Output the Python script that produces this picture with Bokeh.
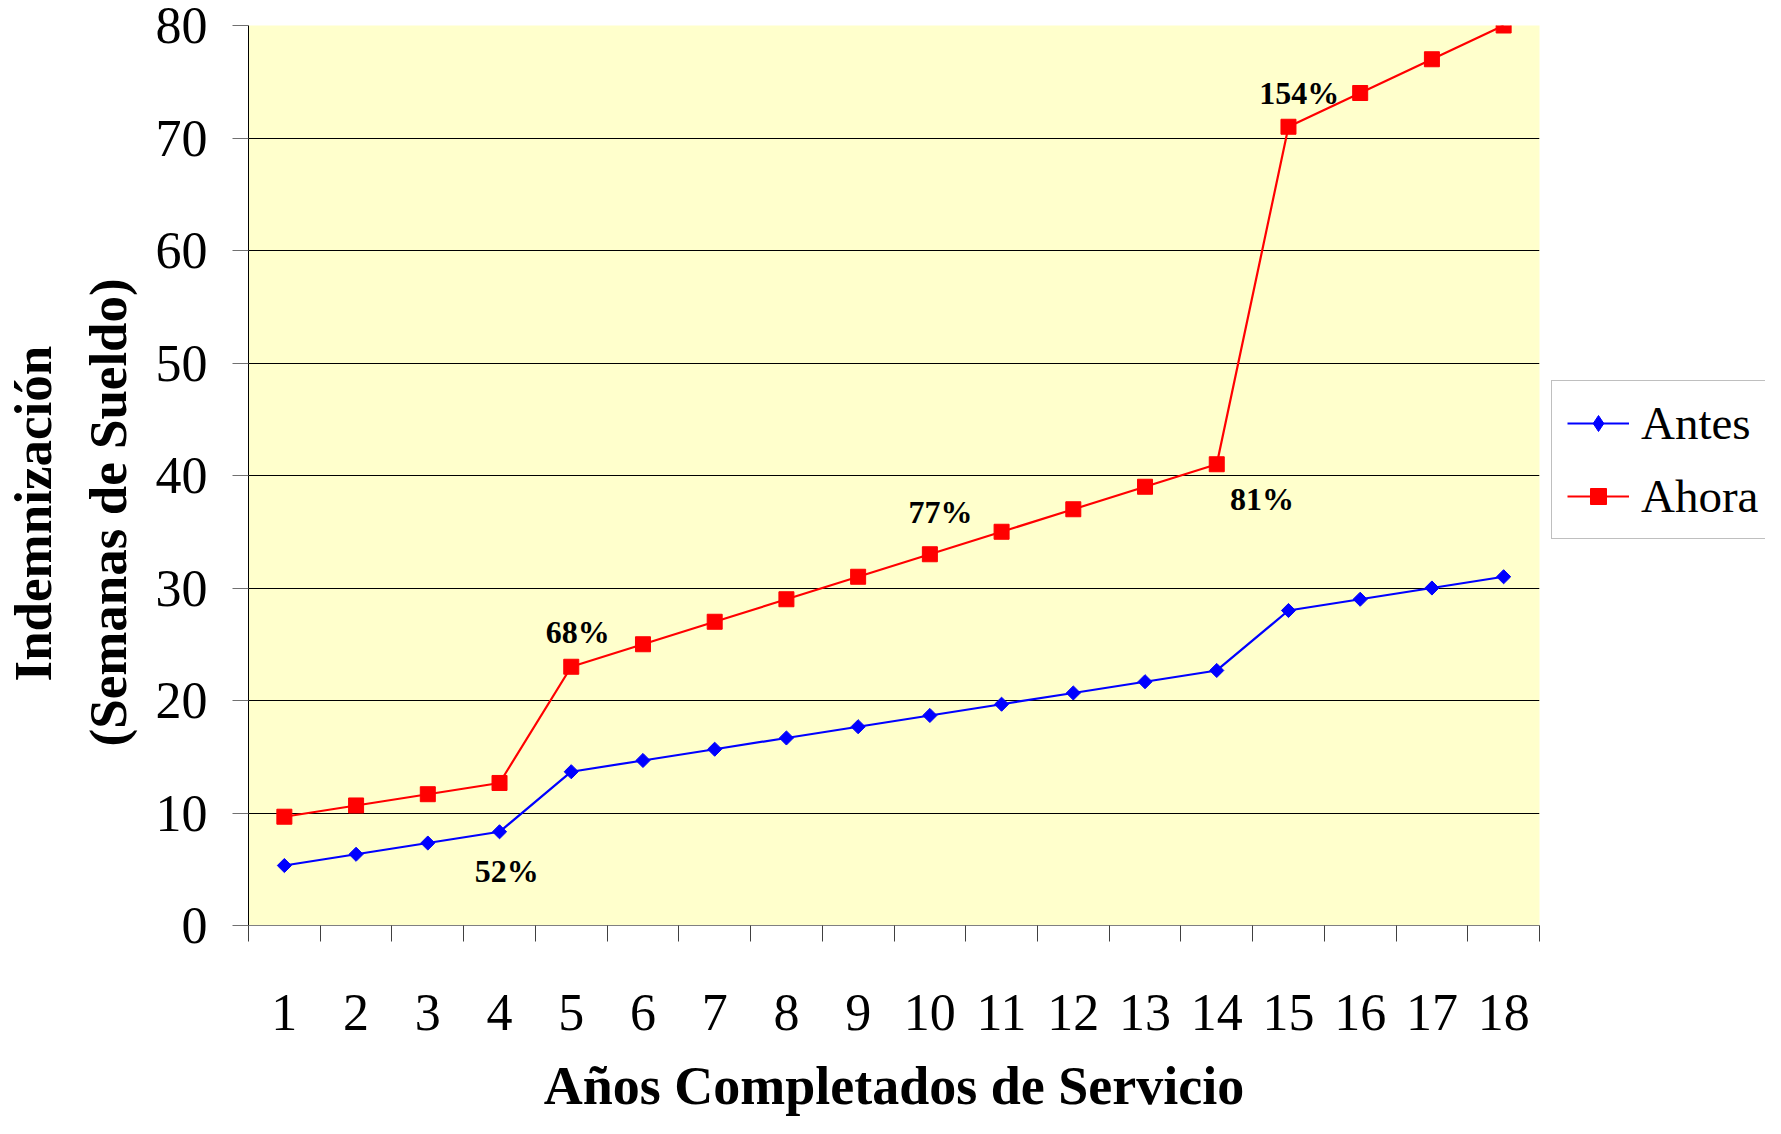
import math
from bokeh.plotting import figure
from bokeh.layouts import row
from bokeh.models import Range1d, FixedTicker, Legend, LegendItem, ColumnDataSource, Title
from bokeh.embed import file_html
from bokeh.resources import INLINE
from bokeh.core.properties import value

# ---------------- data ----------------
anios = [1, 2, 3, 4, 5, 6, 7, 8, 9, 10, 11, 12, 13, 14, 15, 16, 17, 18]
antes = [5.33, 6.33, 7.33, 8.33, 13.67, 14.67, 15.67, 16.67, 17.67, 18.67,
         19.67, 20.67, 21.67, 22.67, 28.0, 29.0, 30.0, 31.0]
ahora = [9.67, 10.67, 11.67, 12.67, 23.0, 25.0, 27.0, 29.0, 31.0, 33.0,
         35.0, 37.0, 39.0, 41.0, 71.0, 74.0, 77.0, 80.0]
etiquetas_txt = ["52%", "68%", "77%", "81%", "154%"]
etiquetas_x = [4.10, 5.09, 10.15, 14.63, 15.15]
etiquetas_y = [4.86, 26.09, 36.79, 37.90, 73.96]
y_ticks = [0, 10, 20, 30, 40, 50, 60, 70, 80]
serie_nombres = ["Antes", "Ahora"]
titulo_x = "Años Completados de Servicio"
titulo_y1 = "Indemnización"
titulo_y2 = "(Semanas de Sueldo)"

FONT = "Liberation Serif"
AZUL = "#0000FF"
ROJO = "#FF0000"
limites = [a - 0.5 for a in anios] + [anios[-1] + 0.5]

# ---------------- main chart ----------------
p = figure(width=1541, height=1118,
           x_range=Range1d(0.5, 18.5), y_range=Range1d(0, 80),
           output_backend="svg", toolbar_location=None,
           min_border_left=248, min_border_right=2,
           min_border_top=25, min_border_bottom=192)
p.background_fill_color = "#FFFFCC"
p.border_fill_color = "white"
p.outline_line_color = None

p.xgrid.grid_line_color = None
p.ygrid.ticker = FixedTicker(ticks=y_ticks)
p.ygrid.grid_line_color = "black"
p.ygrid.grid_line_width = 1

yax = p.yaxis[0]
yax.ticker = FixedTicker(ticks=y_ticks, minor_ticks=[])
yax.major_tick_out = 16
yax.major_tick_in = 0
yax.minor_tick_out = 0
yax.minor_tick_in = 0
yax.axis_line_color = "black"
yax.major_tick_line_color = "#707070"
yax.major_label_text_font = FONT
yax.major_label_text_font_size = "52px"
yax.major_label_text_line_height = 0.9
yax.major_label_text_color = "black"
yax.major_label_standoff = 25

xax = p.xaxis[0]
xax.ticker = FixedTicker(ticks=anios, minor_ticks=limites)
xax.major_tick_out = 0
xax.major_tick_in = 0
xax.major_tick_line_color = None
xax.minor_tick_out = 16
xax.minor_tick_in = 0
xax.minor_tick_line_color = "#404040"
xax.axis_line_color = "#808080"
xax.major_label_text_font = FONT
xax.major_label_text_font_size = "52px"
xax.major_label_text_color = "black"
xax.major_label_standoff = 53
xax.axis_label = titulo_x
xax.axis_label_text_font = FONT
xax.axis_label_text_font_size = "54px"
xax.axis_label_text_font_style = "bold"
xax.axis_label_text_color = "black"
xax.axis_label_standoff = 23

p.line(anios, antes, line_color=AZUL, line_width=2.2)
p.scatter(anios, antes, marker="square", size=10, angle=math.pi / 4,
          fill_color=AZUL, line_color=AZUL)
p.line(anios, ahora, line_color=ROJO, line_width=2.2)
p.scatter(anios, ahora, marker="square", size=15, fill_color=ROJO, line_color=ROJO)

src = ColumnDataSource(dict(x=etiquetas_x, y=etiquetas_y, t=etiquetas_txt))
p.text(x="x", y="y", text="t", source=src, text_font=value(FONT),
       text_font_size="32px", text_font_style="bold", text_align="center",
       text_baseline="middle", text_color="black")

# y-axis title: two lines, inner one first (closest to the axis)
p.add_layout(Title(text=titulo_y2, text_font=FONT, text_font_size="53px",
                   text_font_style="bold", text_color="black",
                   align="left", offset=179, standoff=31), "left")
p.add_layout(Title(text=titulo_y1, text_font=FONT, text_font_size="53px",
                   text_font_style="bold", text_color="black",
                   align="left", offset=244, standoff=0), "left")

# ---------------- legend strip (right of the chart) ----------------
q = figure(width=224, height=1118, output_backend="svg", toolbar_location=None,
           x_axis_type=None, y_axis_type=None, min_border=0)
q.outline_line_color = None
q.grid.visible = False
q.background_fill_color = "white"
q.border_fill_color = "white"
k1l = q.line(anios, antes, line_color=AZUL, line_width=2.2, visible=False)
k1m = q.scatter(anios, antes, marker="diamond", size=16, fill_color=AZUL,
                line_color=AZUL, visible=False)
k2l = q.line(anios, ahora, line_color=ROJO, line_width=2.2, visible=False)
k2m = q.scatter(anios, ahora, marker="square", size=15, fill_color=ROJO,
                line_color=ROJO, visible=False)

legend = Legend(items=[LegendItem(label=serie_nombres[0], renderers=[k1l, k1m]),
                       LegendItem(label=serie_nombres[1], renderers=[k2l, k2m])],
                location=(10, 386))
legend.margin = 0
legend.padding = 15
legend.spacing = 19
legend.glyph_width = 62
legend.glyph_height = 40
legend.label_standoff = 12
legend.label_text_font = FONT
legend.label_text_font_size = "47px"
legend.label_text_color = "black"
legend.border_line_color = "#808080"
legend.border_line_width = 1.5
legend.background_fill_color = "white"
legend.background_fill_alpha = 1
legend.inactive_fill_alpha = 0
legend.click_policy = "none"
q.add_layout(legend, "center")

layout = row(p, q, spacing=0)
open("out.html", "w").write(file_html(layout, INLINE))
